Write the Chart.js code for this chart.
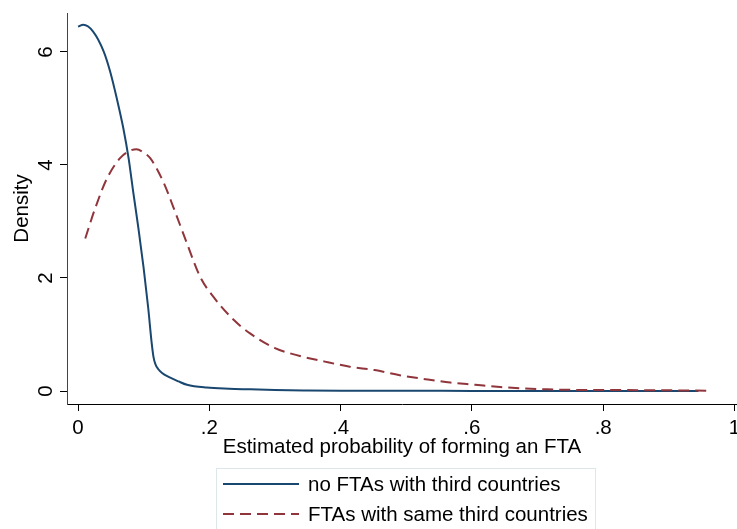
<!DOCTYPE html>
<html>
<head>
<meta charset="utf-8">
<script src="https://cdn.jsdelivr.net/npm/chart.js@4"></script>
<style>
  html, body { margin: 0; background: #fff; }
  #wrap { width: 737px; height: 529px; }
</style>
</head>
<body>
<div id="wrap"><canvas id="densityChart"></canvas></div>
<script>
// kernel density, pairs without FTAs with third countries
const xNoFta = [0.000, 0.008, 0.023, 0.039, 0.049, 0.059, 0.069, 0.077, 0.084, 0.092, 0.100, 0.107, 0.112, 0.115, 0.118, 0.122, 0.128, 0.138, 0.153, 0.166, 0.196, 0.230, 0.262, 0.300, 0.350, 0.400, 0.500, 0.600, 0.700, 0.800, 0.900, 0.945];
const densNoFta = [6.45, 6.48, 6.36, 6.01, 5.65, 5.18, 4.65, 4.12, 3.53, 2.88, 2.17, 1.46, 0.87, 0.60, 0.47, 0.39, 0.32, 0.25, 0.17, 0.11, 0.06, 0.04, 0.03, 0.018, 0.010, 0.005, 0.003, 0.002, 0.001, 0.001, 0.001, 0.001];

// kernel density, pairs with FTAs with the same third countries
const xSameFta = [0.011, 0.026, 0.044, 0.064, 0.079, 0.089, 0.100, 0.110, 0.130, 0.145, 0.166, 0.186, 0.206, 0.237, 0.262, 0.300, 0.338, 0.376, 0.414, 0.452, 0.490, 0.529, 0.567, 0.605, 0.643, 0.680, 0.714, 0.765, 0.866, 0.957];
const densSameFta = [2.70, 3.23, 3.76, 4.12, 4.25, 4.28, 4.22, 4.12, 3.70, 3.26, 2.61, 2.02, 1.67, 1.26, 1.02, 0.76, 0.62, 0.52, 0.43, 0.37, 0.28, 0.21, 0.15, 0.11, 0.07, 0.045, 0.03, 0.018, 0.015, 0.005];

const seriesLabels = ["no FTAs with third countries", "FTAs with same third countries"];
const xTicks = [0, 0.2, 0.4, 0.6, 0.8, 1];
const yTicks = [0, 2, 4, 6];

const FONT = "'Liberation Sans', Arial, sans-serif";
const FS = 20.5;
Chart.defaults.font.family = FONT;
Chart.defaults.font.size = FS;
Chart.defaults.color = "#000";

const toPoints = (xs, ys) => xs.map((x, i) => ({ x: x, y: ys[i] }));

// stata-like boxed legend under the x title
const boxLegend = {
  id: "boxLegend",
  afterDraw(chart) {
    const ctx = chart.ctx;
    const area = chart.chartArea;
    const cx = (area.left + area.right) / 2;
    const left = Math.round(cx - 186);
    const top = chart.height - 61;
    ctx.save();
    ctx.strokeStyle = "#dde6ea";
    ctx.lineWidth = 1;
    ctx.strokeRect(left + 0.5, top + 0.5, 379, 90);
    ctx.font = FS + "px " + FONT;
    ctx.fillStyle = "#000";
    ctx.textBaseline = "middle";
    chart.data.datasets.forEach((ds, i) => {
      const y = top + 16 + i * 30;
      ctx.strokeStyle = ds.borderColor;
      ctx.lineWidth = ds.borderWidth;
      ctx.setLineDash(ds.borderDash || []);
      ctx.beginPath();
      ctx.moveTo(left + 7, y);
      ctx.lineTo(left + 83, y);
      ctx.stroke();
      ctx.setLineDash([]);
      ctx.fillText(ds.label, left + 92, y + 1);
    });
    ctx.restore();
  }
};

const axisGrid = { drawOnChartArea: false, drawTicks: true, tickLength: 7, color: "#000" };

new Chart(document.getElementById("densityChart"), {
  type: "line",
  data: {
    datasets: [
      {
        label: seriesLabels[0],
        data: toPoints(xNoFta, densNoFta),
        borderColor: "#1a476f",
        borderWidth: 2,
        pointRadius: 0,
        cubicInterpolationMode: "monotone",
        fill: false,
        order: 1
      },
      {
        label: seriesLabels[1],
        data: toPoints(xSameFta, densSameFta),
        borderColor: "#90353b",
        borderWidth: 2,
        borderDash: [11, 6],
        pointRadius: 0,
        cubicInterpolationMode: "monotone",
        fill: false,
        order: 0
      }
    ]
  },
  options: {
    responsive: true,
    maintainAspectRatio: false,
    animation: false,
    layout: { padding: { top: 13, left: 12, right: 0, bottom: 71 } },
    plugins: { legend: { display: false }, tooltip: { enabled: false } },
    scales: {
      x: {
        type: "linear",
        min: -0.0168,
        max: 1.0038,
        afterBuildTicks: s => { s.ticks = xTicks.map(v => ({ value: v })); },
        afterFit: s => {
          s.height = 54;
          s.paddingLeft = 0;
          s.paddingRight = 0;
        },
        ticks: {
          padding: 7,
          maxRotation: 0,
          font: { size: FS, lineHeight: 1 },
          callback: v => String(Math.round(v * 10) / 10).replace(/^0\./, ".")
        },
        grid: axisGrid,
        border: { display: true, color: "#000" },
        title: { display: true, text: "Estimated probability of forming an FTA", padding: 0, font: { size: FS, lineHeight: 1 } }
      },
      y: {
        min: -0.23,
        max: 6.69,
        afterBuildTicks: s => { s.ticks = yTicks.map(v => ({ value: v })); },
        afterFit: s => {
          s.width = 55;
          s.paddingTop = 0;
          s.paddingBottom = 0;
        },
        ticks: {
          minRotation: 90,
          maxRotation: 90,
          crossAlign: "center",
          padding: 8,
          font: { size: FS, lineHeight: 1 }
        },
        grid: axisGrid,
        border: { display: true, color: "#444" },
        title: { display: true, text: "Density", padding: 0, font: { size: FS, lineHeight: 1 } }
      }
    }
  },
  plugins: [boxLegend]
});
</script>
</body>
</html>
